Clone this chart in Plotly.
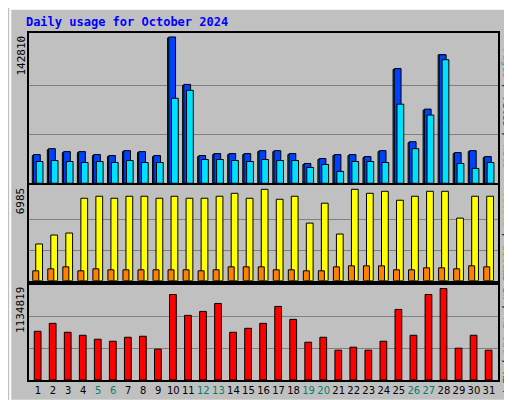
import plotly.graph_objects as go

days = list(range(1, 32))
weekend = [5, 6, 12, 13, 19, 20, 26, 27]

# pixel-read values converted to data
files_y = [148,142,145,145,148,149,144,145,149,29,77,149,147,147,147,144,144,147,157,152,148,148,150,144,61,135,102,47,146,144,150]
hits_y = [155,154,155,156,155,156,154,156,156,91,83,153,153,154,155,153,154,154,161,158,165,155,155,156,97,142,108,52,157,162,156]
pages_y = [149,143,146,146,149,150,145,146,150,30,78,150,148,148,148,145,145,148,158,153,149,149,151,145,62,136,103,47,147,145,151]
visits_y = [239,230,228,193,191,193,191,191,193,191,193,193,191,188,193,184,194,191,218,198,229,184,188,186,195,191,186,186,213,191,191]
sites_y = [266,264,262,266,264,265,265,265,265,265,265,266,265,262,262,262,265,265,266,266,262,261,261,261,265,265,263,263,264,261,262]
kb_y = [327,319,328,331,335,337,333,332,345,290,311,307,299,328,324,319,302,315,338,333,346,343,346,337,305,331,290,284,344,331,346]

max1, max2, max3 = 142810, 6985, 1134819
files = [(177 - y) / 148 * max1 for y in files_y]
hits = [(177 - y) / 148 * max1 for y in hits_y]
pages = [(177 - y) / 148 * max1 for y in pages_y]
visits = [(276 - y) / 92 * max2 for y in visits_y]
sites = [(276 - y) / 92 * max2 for y in sites_y]
kb = [(376 - y) / 96 * max3 for y in kb_y]

line = dict(color='black', width=1)
fig = go.Figure()
fig.add_trace(go.Bar(x=days, y=pages, marker=dict(color='#00805c', line=line), offset=-0.38, width=0.45, yaxis='y'))
fig.add_trace(go.Bar(x=days, y=files, marker=dict(color='#0040ff', line=line), offset=-0.3, width=0.45, yaxis='y'))
fig.add_trace(go.Bar(x=days, y=hits, marker=dict(color='#00e0ff', line=line), offset=-0.12, width=0.45, yaxis='y'))
fig.add_trace(go.Bar(x=days, y=visits, marker=dict(color='#ffff00', line=line), offset=-0.15, width=0.45, yaxis='y2', xaxis='x2'))
fig.add_trace(go.Bar(x=days, y=sites, marker=dict(color='#ff8000', line=line), offset=-0.35, width=0.4, yaxis='y2', xaxis='x2'))
fig.add_trace(go.Bar(x=days, y=kb, marker=dict(color='#ff0000', line=line), offset=-0.25, width=0.45, yaxis='y3', xaxis='x3'))

ticktext = [f"<span style='color:#00806a'>{d}</span>" if d in weekend else str(d) for d in days]
xax = dict(range=[0.4, 31.6], showgrid=False, zeroline=False, showline=True, linecolor='black', linewidth=2, mirror=True, fixedrange=True)
font = dict(family='DejaVu Sans Mono', size=11, color='black')

fig.update_layout(
    width=512, height=400, barmode='overlay', showlegend=False,
    paper_bgcolor='#c0c0c0', plot_bgcolor='#c0c0c0',
    margin=dict(l=21, r=22, t=25, b=22), font=font,
    title=dict(text='<b>Daily usage for October 2024</b>', x=0.035, y=0.975, xanchor='left', yanchor='top',
               font=dict(family='DejaVu Sans Mono', size=12, color='#0000ff')),
    xaxis=dict(xax, anchor='y', showticklabels=False),
    xaxis2=dict(xax, anchor='y2', showticklabels=False),
    xaxis3=dict(xax, anchor='y3', tickvals=days, ticktext=ticktext, ticks='', tickangle=0,
                tickfont=dict(family='DejaVu Sans', size=10, color='black')),
    yaxis=dict(domain=[0.567, 1], range=[0, max1 * 152 / 148], tickvals=[max1 / 3, max1 * 2 / 3], showticklabels=False,
               gridcolor='#808080', showline=True, linecolor='black', linewidth=2, mirror=True, zeroline=False),
    yaxis2=dict(domain=[0.286, 0.561], range=[0, max2 * 96 / 92], tickvals=[max2 / 3, max2 * 2 / 3], showticklabels=False,
                gridcolor='#808080', showline=True, linecolor='black', linewidth=2, mirror=True, zeroline=False),
    yaxis3=dict(domain=[0, 0.275], range=[0, max3], tickvals=[max3 / 3, max3 * 2 / 3], showticklabels=False,
                gridcolor='#808080', showline=True, linecolor='black', linewidth=2, mirror=True, zeroline=False),
    shapes=[dict(type='rect', xref='paper', yref='paper', x0=-0.04, x1=1.045, y0=-0.06, y1=1.07,
                 line=dict(color='white', width=2), layer='below')],
)

for text, yref in [(str(max1), 'y domain'), (str(max2), 'y2 domain'), (str(max3), 'y3 domain')]:
    fig.add_annotation(text=text, xref='paper', x=0, yref=yref, y=1.0, textangle=-90, showarrow=False,
                       xanchor='right', yanchor='top', font=font)
right = [
    ("<span style='color:#00c080'>Pages</span> / <span style='color:#0040ff'>Files</span> / <span style='color:#00c0c0'>Hits</span>", 'y domain'),
    ("<span style='color:#c0c000'>Visits</span> / <span style='color:#ff8000'>Sites</span>", 'y2 domain'),
    ("<span style='color:#00a0a0'>KB In</span> / <span style='color:#8080ff'>KB Out</span> / <span style='color:#ff0000'>KB F</span>", 'y3 domain'),
]
for text, yref in right:
    fig.add_annotation(text=text, xref='paper', x=1.003, yref=yref, y=0.5, textangle=90, showarrow=False,
                       xanchor='left', yanchor='middle', font=dict(family='DejaVu Sans Mono', size=10, color='black'))

fig.write_html("out.html")
